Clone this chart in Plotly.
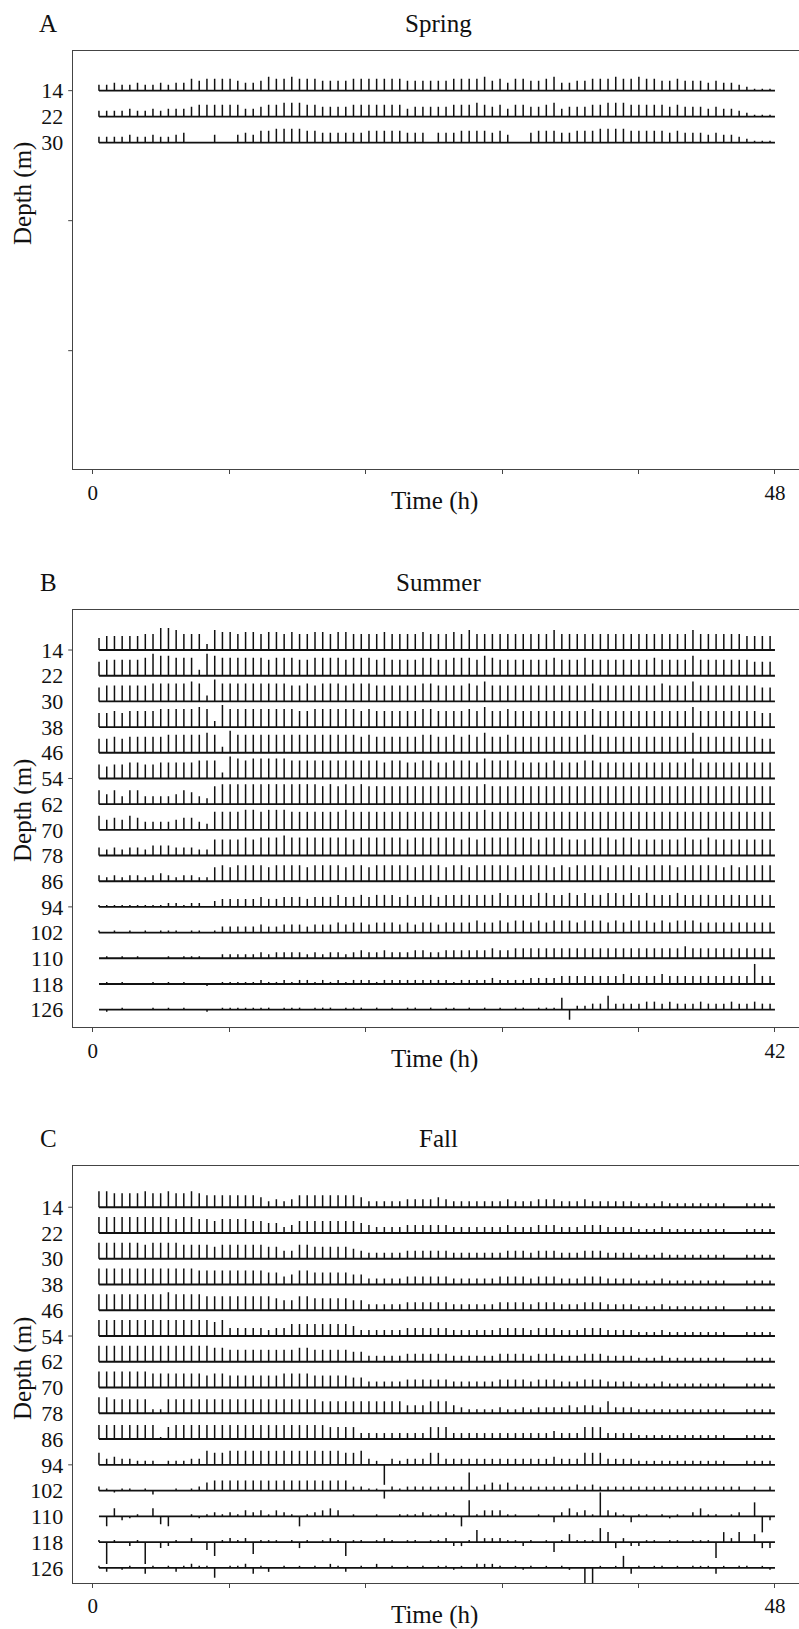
import numpy as np
import plotly.graph_objects as go

W, H = 799, 1629

# ---------------- data ----------------
# Each character = northward velocity of one stick, in steps of 2 cm/s
# '0'-'9' and 'A'-'F' (10-15) point north (up); 'a'..'o' (= -1..-15) point south (down)
spring_depths = [14, 22, 30]
deep_depths = [14, 22, 30, 38, 46, 54, 62, 70, 78, 86, 94, 102, 110, 118, 126]

spring_rows = [
    "3343343343 4465666654 4576676665 5556666666 5555556666 7564665567 4455666766 7665565554 54432111",
    "3333433434 4456666664 4566777665 5556666666 4555556667 6564665567 4555667776 6666565554 54432111",
    "3333433433 4500040045 4667777665 5555566666 5550555666 6564005666 5566677776 6666565554 54432111",
]

summer_rows = [
    "67777788BB A8883A9989 9899898899 8998888988 88988898A8 888888888A 8888888888 8888888A88 88887777",
    "7888889BAA 9993BA9999 9989998899 9989998988 8899889998 A988888889 8889888888 8898888A88 88888777",
    "7888888999 99A93B9999 9999988989 9989998888 8899888898 A888888888 8888988888 8889888A88 88888877",
    "7787888899 999A93B999 9999998899 9999898888 8899888898 A889888888 8888988888 8888888A88 88888877",
    "7787888889 9999A93B99 9999999999 9999898888 8899889898 A889888888 8889988888 8888888A88 88888877",
    "7677887788 8889993BA9 AAAAA99999 9999999899 8899889998 A999988889 8889988888 8888888A88 88888888",
    "7574774444 576439AAAA AAAAAAAAA9 A9A9A99999 9999999999 A999999999 9999999999 9999999999 99999999",
    "7565764444 566439999A A9AAA99999 99A9999999 9999999999 A999999999 9999999999 9999999999 99999999",
    "4343443555 4443388889 8999A99999 9998999999 8999999898 9999999899 9888999899 8888889889 88888888",
    "3232332343 2332278788 8878888788 8878878888 8788878878 8888788887 8788887888 7888878888 87878888",
    "1111111112 2122034444 4544555455 5655656665 6566566666 6676666776 6767667767 6766676666 66666666",
    "1010101011 1011013333 3433444344 4545545554 5455455556 5565665656 6656665656 6656566655 55555555",
    "0101010001 0111002222 2323333232 3323433433 3443344444 4544555555 5555555555 5555556555 55555555",
    "0101000101 0100a01111 1211212212 1212221222 2222221222 2322223333 4444444454 4445444444 44444A44",
    "0a01000101 0100a01111 1110111011 1011101010 1101011010 1010110111 6e22337333 3443433343 33433433",
]

fall_rows = [
    "8877778778 7787666666 6534346666 6666533333 4444543333 3334333444 3334333333 2223222222 22002222",
    "8888888888 7887767777 6655346666 6666543333 4444443333 3334333444 3334443333 2223222222 22002222",
    "8888887888 8777767777 7766447766 6665433333 4444443333 3334443444 3334443333 2223222222 22002222",
    "8888888888 8887777777 7766457766 6665533333 4444443333 3344443444 3334443333 2223222222 22002222",
    "8888888889 8888777777 7776557766 6665533333 4444443333 3344443444 3334443333 2223222222 22002222",
    "8888888888 8888878444 4434466666 6665333333 4444443333 3344443444 3334443333 2223222222 22002222",
    "8888888888 8888877666 6666667766 6665533333 4444443333 3344443444 3334443333 2223222222 22002222",
    "8888888777 7777677666 6666777766 6665533333 4444443333 3344443444 3334443333 2223222222 22002222",
    "8877777227 7777777777 7777777776 6666666666 4446664322 2232232333 3434436333 2222222222 22002222",
    "7777777716 7777777777 7777777777 6666333333 3336663333 3333333334 3336663333 2222222222 22002222",
    "6343322202 2233766777 7777777777 7766732j32 3336633333 3333333334 3336663333 2222222222 22002222",
    "21a1101b00 1012455555 5555555555 5552211d21 2222222292 3434222222 2232322222 2222222222 22220202",
    "0e4ba104de 001a121213 231321e123 4301001001 1121121e81 333110010c 24231C321c 1101a10241 101207hb",
    "1k10b1k0cb 1020dg1212 f11101c101 21g1101210 110112bb16 22211b101e 1411175c2b b110110111 h52504cc",
    "1b0a10c101 b1211e0112 c1b0101010 21b0102010 101011a102 22101a1010 1a0hh1016c 1011010111 c101101a",
]

spring_ticks = [0, 9.6, 19.2, 28.8, 38.4, 48]
summer_ticks = [0, 8.4, 16.8, 25.2, 33.6, 42]
fall_ticks = [0, 9.6, 19.2, 28.8, 38.4, 48]
depth_ticks = [14, 54, 94]


def decode(s):
    out = []
    for c in s.replace(" ", ""):
        if c.isdigit():
            out.append(int(c))
        elif c.isupper():
            out.append(ord(c) - 55)
        else:
            out.append(-(ord(c) - 96))
    return np.array(out, dtype=float) * 2.0  # cm/s


# ---------------- layout geometry (pixels) ----------------
X_LEFT = 72.7
panels = [
    dict(rows=spring_rows, depths=spring_depths, t0=0.44, t1=47.65, tend=48,
         xr=[-1.407, 49.69], yr=[130.5, 1.8], top=51.0, bot=469.3,
         ticks=spring_ticks, letter="A", title="Spring", dmid=194),
    dict(rows=summer_rows, depths=deep_depths, t0=0.39, t1=41.7, tend=42,
         xr=[-1.231, 43.48], yr=[131.5, 1.44], top=609.7, bot=1027.3,
         ticks=summer_ticks, letter="B", title="Summer", dmid=811),
    dict(rows=fall_rows, depths=deep_depths, t0=0.44, t1=47.65, tend=48,
         xr=[-1.407, 49.69], yr=[130.7, 1.1], top=1165.7, bot=1583.0,
         ticks=fall_ticks, letter="C", title="Fall", dmid=1369),
]

FONT = "Liberation Serif"
TXT = "#111111"
fig = go.Figure()
shapes = []
annotations = []

for k, p in enumerate(panels, start=1):
    xa = "x" if k == 1 else f"x{k}"
    ya = "y" if k == 1 else f"y{k}"
    plot_h = p["bot"] - p["top"]
    m_per_px = (p["yr"][0] - p["yr"][1]) / plot_h  # depth units per pixel

    bx, by, sx, sy = [], [], [], []
    for depth, row in zip(p["depths"], p["rows"]):
        v = decode(row)
        t = np.linspace(p["t0"], p["t1"], len(v))
        bx += [t[0], p["tend"], None]
        by += [depth, depth, None]
        for ti, vi in zip(t, v):
            if vi == 0:
                continue
            sx += [ti, ti, None]
            sy += [depth, depth - vi * m_per_px, None]

    fig.add_trace(go.Scatter(x=sx, y=sy, mode="lines", xaxis=xa, yaxis=ya,
                             line=dict(color="#111111", width=1.5),
                             hoverinfo="skip", showlegend=False))
    fig.add_trace(go.Scatter(x=bx, y=by, mode="lines", xaxis=xa, yaxis=ya,
                             line=dict(color="#111111", width=1.9),
                             hoverinfo="skip", showlegend=False))

    dom_y = [1 - p["bot"] / H, 1 - p["top"] / H]
    tt = [str(int(v)) if (i == 0 or i == len(p["ticks"]) - 1) else "" for i, v in enumerate(p["ticks"])]
    fig.update_layout(**{
        ("xaxis" if k == 1 else f"xaxis{k}"): dict(
            domain=[X_LEFT / W, 1.0], range=p["xr"], anchor=ya,
            showline=True, mirror=True, linecolor="#444444", linewidth=1.3,
            ticks="outside", ticklen=4, tickwidth=1, tickcolor="#444444",
            tickmode="array", tickvals=p["ticks"], ticktext=tt,
            tickfont=dict(family=FONT, size=21, color=TXT),
            showgrid=False, zeroline=False, fixedrange=True),
        ("yaxis" if k == 1 else f"yaxis{k}"): dict(
            domain=dom_y, range=p["yr"], anchor=xa,
            showline=True, mirror=False, linecolor="#444444", linewidth=1.3,
            ticks="outside", ticklen=4, tickcolor="rgba(0,0,0,0)",
            tickmode="array", tickvals=p["depths"], ticktext=[str(d) for d in p["depths"]],
            tickfont=dict(family=FONT, size=22, color=TXT),
            showgrid=False, zeroline=False, fixedrange=True),
    })

    for d in depth_ticks:
        shapes.append(dict(type="line", xref="paper", yref=ya,
                           x0=(X_LEFT - 4.5) / W, x1=X_LEFT / W, y0=d, y1=d,
                           line=dict(color="#444444", width=1)))

    annotations += [
        dict(text=p["letter"], x=48 / W, y=1 - (p["top"] - 27) / H,
             xref="paper", yref="paper", showarrow=False, xanchor="center", yanchor="middle",
             font=dict(family=FONT, size=25, color=TXT)),
        dict(text=p["title"], x=438 / W, y=1 - (p["top"] - 27) / H,
             xref="paper", yref="paper", showarrow=False, xanchor="center", yanchor="middle",
             font=dict(family=FONT, size=25, color=TXT)),
        dict(text="Time (h)", x=434 / W, y=1 - (p["bot"] + 32) / H,
             xref="paper", yref="paper", showarrow=False, xanchor="center", yanchor="middle",
             font=dict(family=FONT, size=25, color=TXT)),
        dict(text="Depth (m)", x=23 / W, y=1 - p["dmid"] / H, textangle=-90,
             xref="paper", yref="paper", showarrow=False, xanchor="center", yanchor="middle",
             font=dict(family=FONT, size=25, color=TXT)),
    ]

fig.update_layout(width=W, height=H, margin=dict(l=0, r=0, t=0, b=0),
                  paper_bgcolor="white", plot_bgcolor="white",
                  shapes=shapes, annotations=annotations)

fig.write_html("out.html")
